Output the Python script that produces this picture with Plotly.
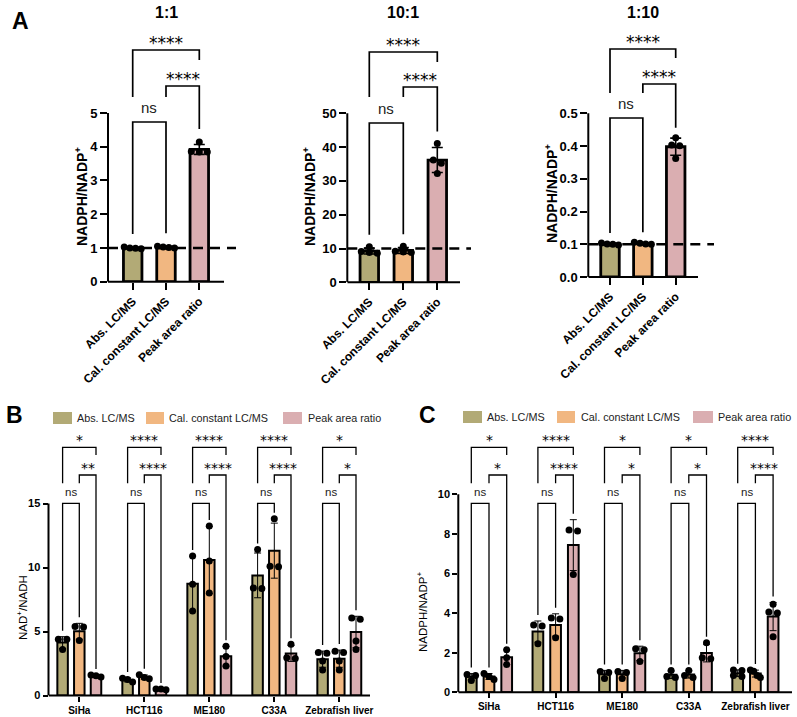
import numpy as np
import plotly.graph_objects as go

W, H = 797, 717
FONT = "Liberation Sans"
STAR_FONT = "DejaVu Sans"

SERIES = ["Abs. LC/MS", "Cal. constant LC/MS", "Peak area ratio"]
COLORS = ["#B2AA76", "#F1B781", "#DAAEB1"]

# ---------------- Panel A : NADPH/NADP+ at three mixing ratios ----------------
A_TITLES = ["1:1", "10:1", "1:10"]
A_EXPECTED = [1, 10, 0.1]
A11_abs = [1.03, 0.98, 1.00, 0.99]
A11_cal = [1.05, 1.03, 1.01, 1.00]
A11_peak = [4.14, 3.86, 3.84, 3.84]
A101_abs = [10.5, 9.1, 8.8, 8.6]
A101_cal = [10.7, 9.2, 9.0, 8.8]
A101_peak = [41.1, 36.2, 35.2, 32.2]
A110_abs = [0.104, 0.101, 0.100, 0.098]
A110_cal = [0.106, 0.103, 0.101, 0.100]
A110_peak = [0.425, 0.403, 0.401, 0.362]
A_SIG = ["****", "****", "ns"]          # Abs vs Peak, Cal vs Peak, Abs vs Cal
A_YTICKS = [[0, 1, 2, 3, 4, 5], [0, 10, 20, 30, 40, 50], [0, 0.1, 0.2, 0.3, 0.4, 0.5]]

# ---------------- Panels B and C ----------------
SAMPLES = ["SiHa", "HCT116", "ME180", "C33A", "Zebrafish liver"]
B_abs = [[4.4, 4.4, 3.6], [1.35, 1.25, 1.05], [10.9, 8.7, 6.6], [11.4, 8.4, 8.35], [3.35, 3.3, 2.7, 2.0]]
B_cal = [[5.4, 5.35, 4.3], [1.62, 1.4, 1.3], [13.25, 10.5, 8.0], [13.8, 10.1, 10.05], [3.45, 3.35, 2.7, 2.0]]
B_peak = [[1.6, 1.55, 1.45], [0.5, 0.5, 0.45], [3.85, 3.05, 2.3], [4.0, 2.95, 2.9], [6.05, 5.95, 4.25, 3.6]]
B_SIG_TOP = ["*", "****", "****", "****", "*"]
B_SIG_MID = ["**", "****", "****", "****", "*"]
B_YTICKS = [0, 5, 10, 15]

C_abs = [[0.9, 0.85, 0.6], [3.4, 3.35, 2.45], [1.05, 1.0, 0.7], [1.1, 0.8, 0.75], [1.12, 1.1, 0.85, 0.8]]
C_cal = [[0.95, 0.8, 0.65], [3.75, 3.7, 2.75], [1.05, 1.0, 0.7], [1.1, 0.85, 0.75], [1.12, 1.06, 0.85, 0.75]]
C_peak = [[2.15, 1.75, 1.4], [8.2, 8.15, 5.95], [2.2, 2.15, 1.55], [2.5, 1.75, 1.7], [4.45, 4.05, 4.0, 2.8]]
C_SIG_TOP = ["*", "****", "*", "*", "****"]
C_SIG_MID = ["*", "****", "*", "*", "****"]
C_YTICKS = [0, 2, 4, 6, 8, 10]

# ---------------- layout geometry (pixels) ----------------
CFG = {
    1: dict(left=108, right=240, c0=132.7, sp=33.3, y0=281.7, ppu=33.75, top=28, xend=224, dash_end=236,
            br=dict(top=50, mid=86, ns=122, left_end=97, tr_end=60), pad=13),
    2: dict(left=347.3, right=478, c0=369.3, sp=34.0, y0=282.3, ppu=3.38, top=28, xend=460, dash_end=471,
            br=dict(top=52, mid=87, ns=123, left_end=97, tr_end=62), pad=12),
    3: dict(left=588.3, right=720, c0=610.0, sp=32.85, y0=277.0, ppu=327.5, top=28, xend=698, dash_end=714,
            br=dict(top=49, mid=84, ns=118, left_end=93, tr_end=58), pad=10),
    4: dict(left=48.5, right=378, c0=79.3, sp=65.0, y0=695.5, ppu=12.8, top=432, xend=370,
            br=dict(top=447.3, mid=475, ns=503.3, left_end=483.3, tr_end=455), pad=6),
    5: dict(left=458.3, right=797, c0=489.0, sp=66.6, y0=692.3, ppu=19.8, top=432, xend=792,
            br=dict(top=447.3, mid=475, ns=503.3, left_end=483.3, tr_end=455), pad=6),
}

fig = go.Figure()
shapes, annots = [], []


def ax_names(i):
    s = "" if i == 1 else str(i)
    return "x" + s, "y" + s, "xaxis" + s, "yaxis" + s


def pxv(c, py):
    return (c["y0"] - py) / c["ppu"]


def swarm(vals, c, spacing=8.0, max_row=12.0, thr=4.5):
    """GraphPad-like scatter: points at (nearly) equal height are laid side by side."""
    vals = np.asarray(vals, dtype=float)
    order = np.argsort(vals)[::-1]
    offs = np.zeros(len(vals))
    clusters, cur, prev = [], [], None
    for k in order:
        if prev is not None and (prev - vals[k]) * c["ppu"] >= thr:
            clusters.append(cur)
            cur = []
        cur.append(k)
        prev = vals[k]
    clusters.append(cur)
    for cl in clusters:
        n = len(cl)
        step = min(spacing, max_row / (n - 1)) if n > 1 else 0
        for j, k in enumerate(cl):
            offs[k] = (j - (n - 1) / 2) * step / c["sp"]
    return offs


def setup_axes(i, tickvals, ticktext, xtickvals, xticktext, yfont, xfont, tickangle, ticklen):
    c = CFG[i]
    xn, yn, xk, yk = ax_names(i)
    xr = [(c["left"] - c["c0"]) / c["sp"], (c["right"] - c["c0"]) / c["sp"]]
    yr = [0, (c["y0"] - c["top"]) / c["ppu"]]
    c["xr"], c["yr"] = xr, yr
    fig.update_layout(**{
        xk: dict(domain=[c["left"] / W, c["right"] / W], range=xr, anchor=yn, tickvals=xtickvals,
                 ticktext=xticktext, ticks="outside", ticklen=ticklen, tickwidth=2, tickcolor="black",
                 showgrid=False, zeroline=False, showline=False, tickangle=tickangle, automargin=False,
                 tickfont=xfont, fixedrange=True),
        yk: dict(domain=[1 - c["y0"] / H, 1 - c["top"] / H], range=yr, anchor=xn, tickvals=tickvals,
                 ticktext=ticktext, ticks="outside", ticklen=ticklen, tickwidth=2, tickcolor="black",
                 showgrid=False, zeroline=False, showline=False, tickfont=yfont, automargin=False,
                 fixedrange=True),
    })
    shapes.append(dict(type="line", xref=xn + " domain", yref=yn, x0=0, x1=0, y0=0, y1=max(tickvals),
                       line=dict(color="black", width=2)))
    shapes.append(dict(type="line", xref=xn, yref=yn + " domain", x0=xr[0], x1=(c["xend"] - c["c0"]) / c["sp"],
                       y0=0, y1=0, line=dict(color="black", width=2)))


def draw_bar(i, x, vals, color, bar_w_px, line_w, dot, err_w, err_t, spacing, max_row):
    c = CFG[i]
    xn, yn, _, _ = ax_names(i)
    vals = np.array(vals, dtype=float)
    m, sd = vals.mean(), vals.std(ddof=1)
    fig.add_trace(go.Bar(x=[x], y=[m], width=bar_w_px / c["sp"], xaxis=xn, yaxis=yn,
                         marker=dict(color=color, line=dict(color="black", width=line_w)),
                         showlegend=False, hoverinfo="skip"))
    fig.add_trace(go.Scatter(x=x + swarm(vals, c, spacing=spacing, max_row=max_row), y=vals, mode="markers",
                             xaxis=xn, yaxis=yn, marker=dict(size=dot, color="black"), showlegend=False,
                             hoverinfo="skip", cliponaxis=False))
    fig.add_trace(go.Scatter(x=[x], y=[m], mode="markers", xaxis=xn, yaxis=yn,
                             marker=dict(size=1, opacity=0), showlegend=False, hoverinfo="skip",
                             error_y=dict(type="data", array=[sd], color="black", thickness=err_t,
                                          width=err_w)))
    return max(vals.max(), m + sd)


def brackets(i, pos, tops, sig_top, sig_mid, lw, ast_size, ns_size, ast_shift, ns_shift):
    c = CFG[i]
    xn, yn, _, _ = ax_names(i)
    lv = {k: pxv(c, v) for k, v in c["br"].items()}
    pad = c["pad"] / c["ppu"]
    p0, p1, p2 = pos
    paths = [
        (p0, lv["left_end"], p2, lv["top"], lv["tr_end"]),
        (p1, lv["left_end"], p2, lv["mid"], tops[2] + pad),
        (p0, tops[0] + pad, p1, lv["ns"], tops[1] + pad),
    ]
    for (xa, ya, xb, yl, yb) in paths:
        shapes.append(dict(type="path", xref=xn, yref=yn,
                           path=f"M {xa},{ya} L {xa},{yl} L {xb},{yl} L {xb},{yb}",
                           line=dict(color="black", width=lw)))
    for (xa, _, xb, yl, _), txt in zip(paths, [sig_top, sig_mid, "ns"]):
        is_ns = txt == "ns"
        annots.append(dict(xref=xn, yref=yn, x=(xa + xb) / 2, y=yl, text=txt, showarrow=False,
                           yanchor="bottom", xanchor="center", yshift=ns_shift if is_ns else ast_shift,
                           font=dict(family=FONT if is_ns else STAR_FONT,
                                     size=ns_size if is_ns else ast_size,
                                     color="#222" if is_ns else "black")))


# ---------------- Panel A ----------------
A_DATA = [[A11_abs, A11_cal, A11_peak], [A101_abs, A101_cal, A101_peak], [A110_abs, A110_cal, A110_peak]]
for k in range(3):
    i = k + 1
    c = CFG[i]
    xn, yn, _, _ = ax_names(i)
    yt = A_YTICKS[k]
    ytxt = [f"{v:.1f}" for v in yt] if k == 2 else [str(v) for v in yt]
    setup_axes(i, yt, ytxt, [0, 1, 2], SERIES,
               dict(family=FONT, size=13, color="black", weight="bold"),
               dict(family=FONT, size=12, color="black", weight="bold"), -45, 7)
    tops = [draw_bar(i, s, A_DATA[k][s], COLORS[s], 18.5, 2.8, 7, 5.5, 1.6, 8.0, 17.0) for s in range(3)]
    shapes.append(dict(type="line", xref=xn, yref=yn, x0=c["xr"][0],
                       x1=(c["dash_end"] - c["c0"]) / c["sp"], y0=A_EXPECTED[k], y1=A_EXPECTED[k],
                       line=dict(color="black", width=2.6, dash="10px,7px")))
    brackets(i, [0, 1, 2], tops, A_SIG[0], A_SIG[1], 1.7, 17, 15, -5, 4)
    annots.append(dict(xref=xn, yref="paper", x=1, y=1 - 13 / H, text=A_TITLES[k],
                       showarrow=False, xanchor="center", yanchor="middle",
                       font=dict(family=FONT, size=16, color="black", weight="bold")))

for (xp, yp) in [(81, 197), (309, 197), (551, 194)]:
    annots.append(dict(xref="paper", yref="paper", x=xp / W, y=1 - yp / H, text="NADPH/NADP<sup>+</sup>",
                       textangle=-90, showarrow=False, xanchor="center", yanchor="middle",
                       font=dict(family=FONT, size=14, color="black", weight="bold")))

# ---------------- Panels B & C ----------------
for i, data, sig_t, sig_m, yt, offpx, bw in [
    (4, (B_abs, B_cal, B_peak), B_SIG_TOP, B_SIG_MID, B_YTICKS, 16.7, 10.5),
    (5, (C_abs, C_cal, C_peak), C_SIG_TOP, C_SIG_MID, C_YTICKS, 17.7, 10.7),
]:
    c = CFG[i]
    setup_axes(i, yt, [str(v) for v in yt], list(range(5)), SAMPLES,
               dict(family=FONT, size=11, color="black", weight="bold"),
               dict(family=FONT, size=10, color="black", weight="bold"), 0, 5)
    for g in range(5):
        offs = [-offpx, 0, offpx]
        pos = [g + o / c["sp"] for o in offs]
        tops = [draw_bar(i, pos[s], data[s][g], COLORS[s], bw, 2.0, 7, 3.5, 1.0, 8.5, 10.0) for s in range(3)]
        brackets(i, pos, tops, sig_t[g], sig_m[g], 1.3, 14, 11.5, -3, 3)

annots.append(dict(xref="paper", yref="paper", x=22 / W, y=1 - 608 / H, text="NAD<sup>+</sup>/NADH",
                   textangle=-90, showarrow=False, xanchor="center", yanchor="middle",
                   font=dict(family=FONT, size=11.5, color="black")))
annots.append(dict(xref="paper", yref="paper", x=422 / W, y=1 - 612 / H, text="NADPH/NADP<sup>+</sup>",
                   textangle=-90, showarrow=False, xanchor="center", yanchor="middle",
                   font=dict(family=FONT, size=11.5, color="black")))

for sw, yc in [([(53, 72, 76), (146, 164, 168), (283, 302, 307)], 418),
               ([(463, 482, 486), (557, 575, 580), (693, 713, 717)], 417)]:
    for s, (x0, x1, xt) in enumerate(sw):
        shapes.append(dict(type="rect", xref="paper", yref="paper", x0=x0 / W, x1=x1 / W,
                           y0=1 - (yc + 6) / H, y1=1 - (yc - 6) / H, fillcolor=COLORS[s], line=dict(width=0)))
        annots.append(dict(xref="paper", yref="paper", x=xt / W, y=1 - yc / H, text=SERIES[s],
                           xanchor="left", yanchor="middle", showarrow=False, borderpad=0,
                           font=dict(family=FONT, size=10.8, color="#222")))

for t, (xp, yp) in [("A", (20, 21)), ("B", (15, 415)), ("C", (427, 415))]:
    annots.append(dict(xref="paper", yref="paper", x=xp / W, y=1 - yp / H, text=t, showarrow=False,
                       xanchor="center", yanchor="middle",
                       font=dict(family=FONT, size=23, color="black", weight="bold")))

fig.update_layout(template="none", width=W, height=H, margin=dict(l=0, r=0, t=0, b=0, autoexpand=False),
                  paper_bgcolor="white", plot_bgcolor="white", showlegend=False, shapes=shapes,
                  annotations=annots, barmode="overlay")
fig.write_html("out.html")
